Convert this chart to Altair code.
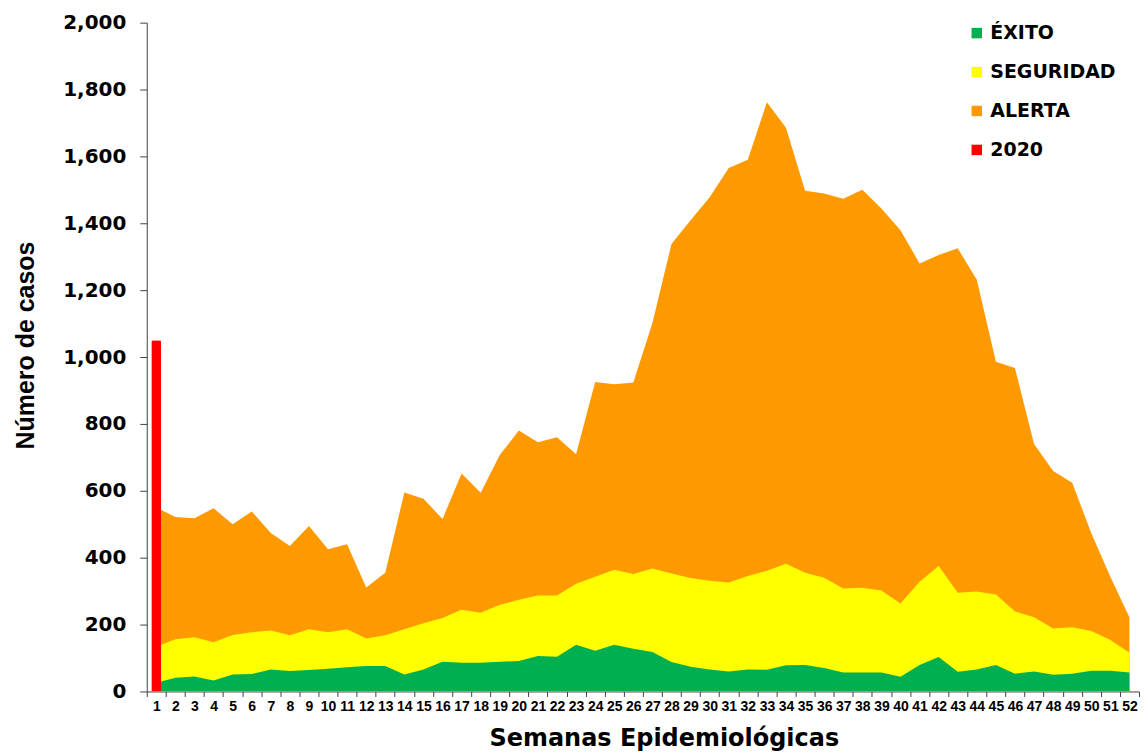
import altair as alt
import pandas as pd

weeks = list(range(1, 53))

exito = [26, 41, 45, 33, 51, 52, 66, 61, 64, 68, 72, 76, 76, 51, 66, 89, 86, 86,
         89, 91, 106, 104, 140, 122, 140, 128, 118, 88, 74, 66, 60, 66, 65, 78,
         79, 70, 57, 57, 57, 44, 79, 103, 59, 66, 79, 53, 60, 50, 53, 62, 62, 57]

seguridad = [134, 156, 162, 147, 169, 177, 182, 168, 186, 177, 186, 158, 168, 186, 204, 220, 244, 235,
             259, 274, 287, 287, 322, 343, 364, 351, 368, 353, 339, 331, 326, 345, 361, 382,
             355, 340, 308, 310, 302, 263, 328, 375, 295, 299, 290, 239, 222, 188, 192, 181, 154, 116]

alerta = [550, 522, 518, 548, 500, 538, 474, 435, 495, 425, 440, 311, 355, 595, 576, 516, 652, 594,
          707, 780, 745, 760, 709, 925, 919, 924, 1102, 1338, 1409, 1478, 1565, 1590, 1762, 1686,
          1497, 1489, 1473, 1500, 1444, 1379, 1280, 1305, 1325, 1231, 986, 967, 740, 659, 624, 473, 343, 221]

weeks_2020 = [1]
casos_2020 = [1050]

series_names = ["ÉXITO", "SEGURIDAD", "ALERTA", "2020"]
series_colors = ["#00B050", "#FFFF00", "#FF9900", "#FF0000"]

WIDE = "DejaVu Sans"
NARROW = "Liberation Sans"
AXIS_COLOR = "#404040"

rows = []
for name, vals in [("ALERTA", alerta), ("SEGURIDAD", seguridad), ("ÉXITO", exito)]:
    for w, v in zip(weeks, vals):
        rows.append({"semana": w, "valor": v, "serie": name})
df_area = pd.DataFrame(rows)
df_2020 = pd.DataFrame({"semana": weeks_2020, "valor": casos_2020, "serie": ["2020"] * len(weeks_2020)})

x_scale = alt.Scale(type="band", domain=weeks, paddingInner=0, paddingOuter=0)
x_axis = alt.Axis(
    title="Semanas  Epidemiológicas",
    labelAngle=0,
    tickBand="extent",
    labelFont=NARROW,
    labelFontSize=14,
    labelFontWeight="bold",
    labelColor="#000000",
    labelPadding=3,
    titleFont=WIDE,
    titleFontSize=24,
    titleFontWeight="bold",
    titleColor="#000000",
    titlePadding=13,
    titleX=518,
    domainColor=AXIS_COLOR,
    tickColor=AXIS_COLOR,
    tickSize=5,
    grid=False,
)
y_scale = alt.Scale(domain=[0, 2000], nice=False)
y_axis = alt.Axis(
    title="Número de casos",
    values=list(range(0, 2001, 200)),
    format=",d",
    labelFont=WIDE,
    labelFontSize=20,
    labelFontWeight="bold",
    labelColor="#000000",
    labelPadding=14,
    titleFont=NARROW,
    titleFontSize=25,
    titleFontWeight="bold",
    titleColor="#000000",
    titlePadding=24,
    titleY=323,
    domainColor=AXIS_COLOR,
    tickColor=AXIS_COLOR,
    tickSize=7,
    grid=False,
)
color = alt.Color(
    "serie:N",
    scale=alt.Scale(domain=series_names, range=series_colors),
    legend=alt.Legend(
        title=None,
        orient="none",
        legendX=822,
        legendY=1,
        symbolType="square",
        symbolSize=110,
        symbolStrokeWidth=0,
        labelFont=WIDE,
        labelFontSize=19,
        labelFontWeight="bold",
        labelColor="#000000",
        labelOffset=4,
        rowPadding=19,
    ),
)

layers = []
for name in ["ALERTA", "SEGURIDAD", "ÉXITO"]:
    layers.append(
        alt.Chart(df_area[df_area.serie == name])
        .mark_area(opacity=1, interpolate="linear")
        .encode(
            x=alt.X("semana:O", scale=x_scale, axis=x_axis, bandPosition=0.5),
            y=alt.Y("valor:Q", scale=y_scale, axis=y_axis, stack=None),
            color=color,
        )
    )

bar = (
    alt.Chart(df_2020)
    .mark_bar(size=10, cornerRadiusTopLeft=2, cornerRadiusTopRight=2)
    .encode(
        x=alt.X("semana:O", scale=x_scale, axis=x_axis),
        y=alt.Y("valor:Q", scale=y_scale, axis=y_axis),
        color=color,
    )
)

chart = (
    alt.layer(*layers, bar)
    .properties(width=994, height=670, padding={"left": 5, "top": 4, "right": 0, "bottom": 0})
    .configure(font=NARROW)
    .configure_view(stroke=None)
)

chart.save("out.html", embed_options={"renderer": "svg", "actions": False})
